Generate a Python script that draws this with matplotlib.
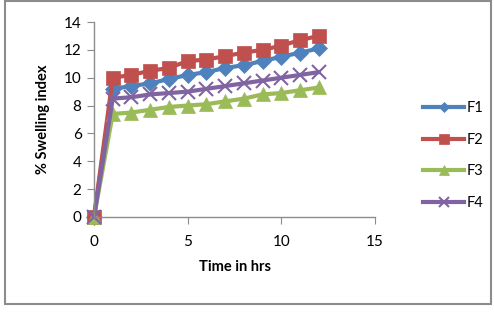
import matplotlib
matplotlib.use("Agg")
import matplotlib.pyplot as plt
from matplotlib.patches import Rectangle

time_hrs = [0, 1, 2, 3, 4, 5, 6, 7, 8, 9, 10, 11, 12]
f1 = [0, 9.2, 9.4, 9.6, 9.9, 10.2, 10.4, 10.7, 10.9, 11.2, 11.5, 11.8, 12.1]
f2 = [0, 10.0, 10.2, 10.5, 10.7, 11.2, 11.3, 11.55, 11.8, 12.0, 12.3, 12.7, 13.0]
f3 = [0, 7.4, 7.5, 7.7, 7.9, 8.0, 8.1, 8.3, 8.5, 8.8, 8.9, 9.1, 9.3]
f4 = [0, 8.5, 8.6, 8.8, 8.9, 9.0, 9.2, 9.4, 9.6, 9.8, 10.0, 10.2, 10.4]
series_names = ["F1", "F2", "F3", "F4"]
x_ticks = [0, 5, 10, 15]
y_ticks = [0, 2, 4, 6, 8, 10, 12, 14]

plt.rcParams['font.family'] = ['Lato', 'DejaVu Sans']

W, H = 494, 314
fig = plt.figure(figsize=(W / 100, H / 100), dpi=100)
fig.patch.set_facecolor("white")

# outer frame
fig.add_artist(Rectangle((5 / W, 1 - 304 / H), 486 / W, 303 / H,
                         transform=fig.transFigure, fill=False,
                         edgecolor="#8c8c8c", linewidth=1.5))

ax = fig.add_axes([94 / W, 1 - 217 / H, (375 - 94) / W, (217 - 22) / H])

colors = ["#4F81BD", "#C0504D", "#9BBB59", "#8064A2"]
markers = ["D", "s", "^", "x"]
msizes = [8, 9.5, 10, 10]
data = [f1, f2, f3, f4]
for y, c, m, ms, name in zip(data, colors, markers, msizes, series_names):
    ax.plot(time_hrs, y, color=c, linewidth=3, marker=m, markersize=ms,
            markeredgewidth=1.5 if m == "x" else 0.5, markeredgecolor=c,
            label=name, clip_on=False)

ax.set_xlim(0, 15)
ax.set_ylim(0, 14)
ax.set_xticks(x_ticks)
ax.set_yticks(y_ticks)
for s in ["top", "right"]:
    ax.spines[s].set_visible(False)
for s in ["left", "bottom"]:
    ax.spines[s].set_color("#8c8c8c")
    ax.spines[s].set_linewidth(1)
ax.tick_params(axis="both", direction="out", length=5, color="#8c8c8c",
               labelsize=11, pad=4)
ax.tick_params(axis="x", pad=8)

ax.set_xlabel("Time in hrs", fontsize=10.5, fontweight="bold", labelpad=8)
ax.set_ylabel("% Swelling index", fontsize=10.5, fontweight="bold", labelpad=10)

leg = ax.legend(loc="upper left", bbox_to_anchor=(410 / W, 1 - 88 / H),
                bbox_transform=fig.transFigure, frameon=False,
                fontsize=10.5, handlelength=2.8, labelspacing=1.2,
                handletextpad=0.2, markerscale=0.7)

fig.savefig("out.png", dpi=100, facecolor="white")
